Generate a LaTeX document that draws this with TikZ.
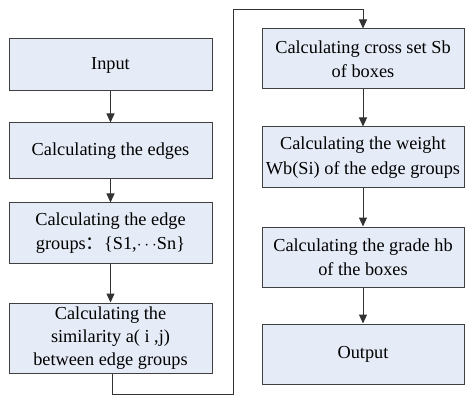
\documentclass[tikz,border=0pt]{standalone}
\usepackage{fontspec}
\setmainfont{Liberation Serif}
\newfontfamily\cjkfont{Noto Sans CJK SC}
\usetikzlibrary{arrows.meta}
\begin{document}
\begin{tikzpicture}[x=1pt,y=-1pt,
  box/.style={draw=black!75, line width=1pt, fill=boxfill, align=center,
    inner sep=0pt, font=\fontsize{18.3}{24.5}\selectfont},
  lbox/.style={box, minimum width=203pt},
  rbox/.style={box, minimum width=202pt},
  conn/.style={draw=black!80, line width=1pt},
  arr/.style={conn, -{Triangle[length=9pt,width=8pt]}}]
\definecolor{boxfill}{HTML}{E6ECF7}
\useasboundingbox (0,0) rectangle (473,403);
\node[lbox, minimum height=52pt] (in) at (110.5,65) {Input};
\node[lbox, minimum height=56pt] (ed) at (110.5,151) {Calculating the edges};
\node[lbox, minimum height=60pt] (gr) at (110.5,233) {Calculating the edge\\groups{\cjkfont ：}{\{}S1,$\cdots$Sn{\}}};
\node[lbox, minimum height=70pt, font=\fontsize{18.3}{23}\selectfont] (si) at (110.5,338) {Calculating the\\similarity a( i ,j)\\between edge groups};
\node[rbox, minimum height=60pt] (cr) at (363,59) {Calculating cross set Sb\\of boxes};
\node[rbox, minimum height=61pt] (we) at (363,157.5) {Calculating the weight\\Wb(Si) of the edge groups};
\node[rbox, minimum height=60pt] (ga) at (363,257) {Calculating the grade hb\\of the boxes};
\node[rbox, minimum height=60pt] (ou) at (363,354) {Output};
\draw[arr] (in) -- (ed);
\draw[arr] (ed) -- (gr);
\draw[arr] (gr) -- (si);
\draw[arr] (cr) -- (we);
\draw[arr] (we) -- (ga);
\draw[arr] (ga) -- (ou);
\coordinate (c1) at (112,394);
\coordinate (c2) at (233,394);
\coordinate (c3) at (233,10);
\coordinate (c4) at (363,10);
\draw[arr] (si.south -| c1) -- (c1) -- (c2) -- (c3) -- (c4) -- (cr.north);
\end{tikzpicture}
\end{document}
